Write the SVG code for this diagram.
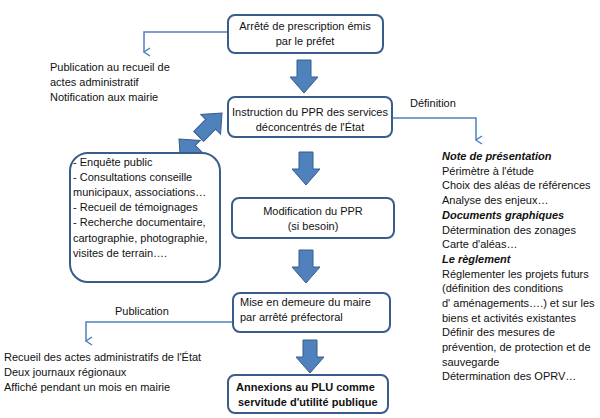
<svg xmlns="http://www.w3.org/2000/svg" width="600" height="418" viewBox="0 0 600 418">
<style>
text{font-family:"Liberation Sans",Arial,sans-serif;font-size:11px;fill:#111}
.b{fill:#fff;stroke:#385d8a;stroke-width:2}
.ba{fill:#4f81bd;stroke:#385d8a;stroke-width:1}
.c{fill:none;stroke:#4f81bd;stroke-width:1.5}
.m{text-anchor:middle}
.bi{font-weight:bold;font-style:italic}
</style>
<defs>
<marker id="ah" markerWidth="10" markerHeight="10" refX="5" refY="8" orient="auto" markerUnits="userSpaceOnUse" viewBox="0 0 10 10">
<path d="M1,2 L5,8 L9,2" fill="none" stroke="#4f81bd" stroke-width="1.5"/>
</marker>
<polygon id="down" points="-7,0 7,0 7,17 14,17 0,33 -14,17 -7,17"/>
</defs>
<g id="connectors">
<path class="c" d="M228,32 H144 V52" marker-end="url(#ah)"/>
<path class="c" d="M392,118 H476 V140" marker-end="url(#ah)"/>
<path class="c" d="M233,322 H86 V341" marker-end="url(#ah)"/>
<use href="#down" class="ba" x="304" y="60"/>
<use href="#down" class="ba" x="306" y="152"/>
<use href="#down" class="ba" x="306" y="250"/>
<use href="#down" class="ba" x="310" y="340"/>
<use href="#down" class="ba" transform="translate(179,139) rotate(135) translate(0,-33)"/>
<use href="#down" class="ba" transform="translate(222,113) rotate(-135) translate(0,-33)" />
<text x="410" y="107">Définition</text>
<text x="115" y="315">Publication</text>
</g>
<g id="n1"><rect class="b" x="228" y="15" width="155" height="38" rx="7"/>
<text class="m" x="305" y="30">Arrêté de prescription  émis</text><text class="m" x="305" y="45">par le préfet</text></g>
<g id="n2"><rect class="b" x="228" y="97" width="164" height="40" rx="7"/>
<text class="m" x="310" y="116">Instruction du PPR des services</text><text class="m" x="310" y="131">déconcentrés de l'État</text></g>
<g id="n3"><rect class="b" x="232" y="198" width="162" height="40" rx="7"/>
<text class="m" x="313" y="215">Modification du PPR</text><text class="m" x="313" y="230">(si besoin)</text></g>
<g id="n4"><rect class="b" x="233" y="293" width="157" height="39" rx="7"/>
<text x="240" y="306">Mise en demeure du maire</text><text x="240" y="321">par arrêté préfectoral</text></g>
<g id="n5"><rect class="b" x="228" y="375" width="160" height="38" rx="7"/>
<text x="236" y="391" style="font-weight:bold">Annexions au PLU comme</text><text x="238" y="406" style="font-weight:bold">servitude d'utilité  publique</text></g>
<g id="n6"><rect class="b" x="70" y="153" width="150" height="129" rx="18"/>
<text x="73" y="166">- Enquête  public</text>
<text x="73" y="181">- Consultations  conseille</text>
<text x="73" y="196">municipaux,  associations…</text>
<text x="73" y="211">- Recueil de témoignages</text>
<text x="73" y="226">- Recherche documentaire,</text>
<text x="73" y="242">cartographie, photographie,</text>
<text x="73" y="257">visites de terrain….</text></g>
<g id="t1">
<text x="50" y="71">Publication  au recueil de</text>
<text x="50" y="86">actes administratif</text>
<text x="50" y="101">Notification aux mairie</text></g>
<g id="t2">
<text x="442" y="160" class="bi">Note de présentation</text>
<text x="442" y="175">Périmètre  à l'étude</text>
<text x="442" y="189">Choix des aléas de références</text>
<text x="442" y="204">Analyse  des enjeux…</text>
<text x="442" y="219" class="bi">Documents graphiques</text>
<text x="442" y="234">Détermination  des zonages</text>
<text x="442" y="248">Carte d'aléas…</text>
<text x="442" y="263" class="bi">Le règlement</text>
<text x="442" y="278">Réglementer  les projets futurs</text>
<text x="442" y="292">(définition  des conditions</text>
<text x="442" y="307">d' aménagements….)  et sur les</text>
<text x="442" y="322">biens et activités existantes</text>
<text x="442" y="336">Définir des mesures de</text>
<text x="442" y="351">prévention,  de protection et de</text>
<text x="442" y="366">sauvegarde</text>
<text x="442" y="380">Détermination  des OPRV…</text></g>
<g id="t3">
<text x="4" y="361">Recueil des actes administratifs  de l'État</text>
<text x="4" y="376">Deux journaux régionaux</text>
<text x="4" y="391">Affiché pendant  un mois en mairie</text></g>
</svg>
